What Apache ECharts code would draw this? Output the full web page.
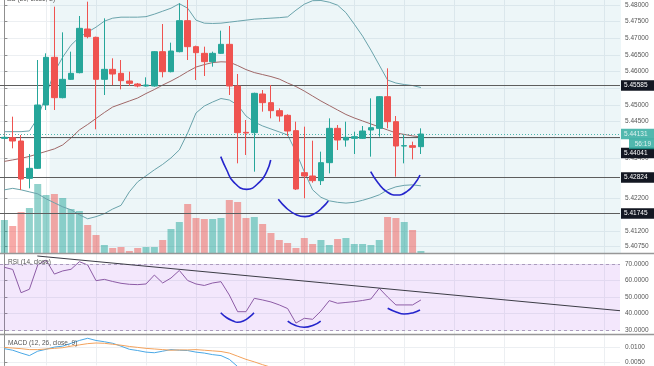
<!DOCTYPE html>
<html><head><meta charset="utf-8">
<script src="https://cdn.jsdelivr.net/npm/echarts@6/dist/echarts.min.js"></script>
<style>html,body{margin:0;padding:0;background:#fff}#c{width:654px;height:366px}</style>
</head><body><div id="c"></div>
<script>
// ---- data (hourly candles, index 0..50) ----
const open  = [5.4400,5.4402,5.4392,5.4280,5.4310,5.4500,5.4643,5.4522,5.4577,5.4597,5.4728,5.4703,5.4577,5.4607,5.4595,5.4572,5.4563,5.4557,5.4557,5.4660,5.4600,5.4660,5.4753,5.4675,5.4655,5.4630,5.4655,5.4682,5.4557,5.4418,5.4417,5.4533,5.4507,5.4483,5.4469,5.4423,5.4297,5.4287,5.4273,5.4327,5.4430,5.4395,5.4400,5.4400,5.4425,5.4430,5.4525,5.4450,5.4377,5.4378,5.4375];
const close = [5.4403,5.4392,5.4278,5.4310,5.4500,5.4643,5.4522,5.4577,5.4595,5.4730,5.4705,5.4577,5.4607,5.4593,5.4573,5.4565,5.4557,5.4560,5.4660,5.4600,5.4662,5.4753,5.4675,5.4657,5.4630,5.4655,5.4682,5.4557,5.4417,5.4416,5.4535,5.4507,5.4483,5.4467,5.4422,5.4248,5.4287,5.4273,5.4327,5.4430,5.4395,5.4403,5.4405,5.4422,5.4432,5.4525,5.4450,5.4377,5.4378,5.4373,5.4413];
const low   = [5.4397,5.4370,5.4245,5.4250,5.4308,5.4485,5.4485,5.4520,5.4575,5.4595,5.4700,5.4427,5.4530,5.4560,5.4547,5.4557,5.4553,5.4555,5.4555,5.4583,5.4598,5.4658,5.4635,5.4575,5.4587,5.4615,5.4653,5.4530,5.4325,5.4350,5.4300,5.4480,5.4460,5.4450,5.4407,5.4245,5.4220,5.4267,5.4260,5.4295,5.4365,5.4375,5.4353,5.4398,5.4345,5.4405,5.4430,5.4285,5.4325,5.4337,5.4353];
const high  = [5.4407,5.4465,5.4410,5.4353,5.4635,5.4655,5.4795,5.4718,5.4660,5.4767,5.4810,5.4705,5.4760,5.4640,5.4635,5.4600,5.4566,5.4583,5.4662,5.4743,5.4687,5.4805,5.4820,5.4678,5.4675,5.4660,5.4723,5.4737,5.4593,5.4455,5.4537,5.4545,5.4560,5.4490,5.4472,5.4450,5.4435,5.4393,5.4360,5.4460,5.4440,5.4450,5.4420,5.4437,5.4520,5.4527,5.4610,5.4467,5.4410,5.4390,5.4430];
const volume = [660,540,820,900,1380,1160,1180,1100,880,840,560,360,160,100,120,40,100,120,120,260,480,620,980,700,680,680,700,1060,1020,700,720,580,400,260,200,100,300,180,260,160,280,300,180,180,160,260,720,700,620,460,40];
const bbUpper = [5.44200,5.44200,5.44200,5.44222,5.44611,5.45299,5.45988,5.46437,5.46796,5.47036,5.47186,5.47335,5.47515,5.47605,5.47635,5.47635,5.47635,5.47650,5.47725,5.47814,5.47904,5.48039,5.47904,5.47545,5.47455,5.47446,5.47455,5.47485,5.47515,5.47545,5.47575,5.47590,5.47605,5.47620,5.47644,5.47844,5.48024,5.48129,5.48135,5.48084,5.47994,5.47770,5.47425,5.47066,5.46647,5.46198,5.45749,5.45659,5.45614,5.45584,5.45524];
const bbMid   = [5.43308,5.43353,5.43398,5.43458,5.43533,5.43608,5.43683,5.43802,5.44012,5.44251,5.44416,5.44596,5.44775,5.44940,5.45030,5.45120,5.45210,5.45344,5.45464,5.45599,5.45719,5.45853,5.46003,5.46138,5.46213,5.46272,5.46296,5.46287,5.46183,5.46063,5.45973,5.45913,5.45853,5.45778,5.45659,5.45554,5.45419,5.45269,5.45120,5.44985,5.44850,5.44716,5.44611,5.44521,5.44431,5.44341,5.44251,5.44162,5.44117,5.44072,5.44042];
const bbLower = [5.42455,5.42500,5.42455,5.42395,5.42335,5.42186,5.42066,5.41946,5.41856,5.41707,5.41587,5.41650,5.41740,5.41880,5.41990,5.42395,5.42695,5.42874,5.43054,5.43219,5.43413,5.43653,5.44162,5.44760,5.44970,5.45090,5.45195,5.45150,5.45000,5.44671,5.44491,5.44371,5.44281,5.44192,5.44102,5.43593,5.42994,5.42455,5.42231,5.42126,5.42081,5.42057,5.42081,5.42141,5.42216,5.42305,5.42455,5.42545,5.42590,5.42605,5.42575];
const rsi = [68,66.7,52.6,54.7,69.4,72.4,63.9,65.8,66.8,71.4,69.4,59.9,60.7,59.4,58.3,57.7,57.5,57.9,63.3,58.5,61.5,66.1,60,57.9,57,58.5,59.3,51.2,41.1,41.1,49.2,48.2,47,45.2,43,34.2,37.1,36.5,41.5,47.8,46.2,46.7,47.2,47.9,48.8,55.3,50,45.2,45.2,45.2,48.2];
const macdLine = [0.0094,0.0089,0.0080,0.0072,0.0086,0.0092,0.0099,0.0102,0.0111,0.0120,0.0127,0.0120,0.0116,0.0111,0.0102,0.0092,0.0088,0.0083,0.0081,0.0086,0.0091,0.0089,0.0088,0.0083,0.0080,0.0075,0.0072,0.0060,0.0037,0.0025];
const signalLine = [0.0098,0.0096,0.0094,0.0091,0.0091,0.0093,0.0095,0.0097,0.0102,0.0106,0.0110,0.0112,0.0111,0.0108,0.0105,0.0101,0.0098,0.0095,0.0093,0.0091,0.0089,0.0090,0.0090,0.0091,0.0089,0.0087,0.0085,0.0080,0.0070,0.0060,0.0052,0.0043,0.0035];

// horizontal levels and price labels
const levels = [5.45585, 5.44041, 5.42824, 5.41745];
const lastPrice = 5.44131;
const countdown = '56:19';
const priceGrid   = [5.4075,5.412,5.422,5.434,5.440,5.445,5.450,5.455,5.460,5.465,5.470,5.475,5.480];
const priceLabels = [5.4075,5.412,5.422,5.434,5.445,5.450,5.460,5.465,5.470,5.475,5.480];
const rsiTicks  = [30,40,50,60,70];
const macdTicks = [0.005,0.010];
const timeGrid  = [0,5,11,17,23,29,36,42,48,54,60,66,72];

// drawn annotations (candle index, value)
const priceArc1 = [[25.97,5.4345],[26.69,5.4305],[27.48,5.4270],[29.09,5.4247],[30.68,5.4270],[31.49,5.4300],[31.97,5.4335]];
const priceArc2 = [[32.88,5.4217],[33.89,5.4190],[35.09,5.4170],[36.09,5.4165],[37.29,5.4175],[38.28,5.4195],[38.88,5.4212]];
const priceArc3 = [[43.97,5.4300],[44.89,5.4265],[45.89,5.4240],[47.10,5.4230],[48.30,5.4240],[49.29,5.4265],[49.89,5.4290]];
const rsiArc1 = [[25.97,40.5],[26.69,37.45],[27.48,35.45],[27.96,34.7],[28.68,35.45],[29.48,38.06],[29.96,40.5]];
const rsiArc2 = [[34.01,35.45],[34.89,32.85],[35.97,31.64],[37.08,32.85],[37.97,35.45]];
const rsiArc3 = [[46.01,43.15],[47.1,40.73],[47.97,39.7],[49.09,40.5],[49.89,42.12]];
const rsiTrend = [[3.95,74.85],[73.9,41.7]];

// ---- build ----
const FONT = 'Liberation Sans';
const UP = '#26a69a', DOWN = '#ef5350';
const idx = open.map((_, i) => i);
const candles = idx.map(i => [i, open[i], close[i], low[i], high[i]]);
const volData = idx.map(i => ({value: [i, volume[i]], itemStyle: {color: close[i] >= open[i] ? 'rgba(38,166,154,0.5)' : 'rgba(239,83,80,0.5)'}}));
const pair = arr => arr.map((v, i) => [i, v]);

const XMIN = -0.528, XMAX = 73.9;
function xAx(g) {
  return {type: 'value', gridIndex: g, min: XMIN, max: XMAX,
    axisLine: {show: false}, axisLabel: {show: false},
    axisTick: {show: false, customValues: timeGrid},
    splitLine: {show: true, lineStyle: {color: '#eceff2', width: 1}}};
}
function yAx(g, min, max, ticks, labels, dec) {
  return {type: 'value', gridIndex: g, position: 'right', min: min, max: max,
    axisLine: {show: true, lineStyle: {color: '#8f8f8f', width: 1}},
    axisTick: {show: true, length: 3, customValues: ticks, lineStyle: {color: '#8f8f8f'}},
    axisLabel: {customValues: labels, formatter: v => v.toFixed(dec), fontSize: 6.5, color: '#555', margin: 5, fontFamily: FONT},
    splitLine: {show: true, lineStyle: {color: '#eceff2', width: 1}}};
}
const arcStyle = {color: '#2525cc', width: 1.6};
function arc(data, xi, yi) {
  return {type: 'line', xAxisIndex: xi, yAxisIndex: yi, data: data, smooth: 0.5, symbol: 'none', lineStyle: arcStyle, z: 8, silent: true};
}
const levelLines = levels.map((v, k) => ({
  yAxis: v,
  lineStyle: {color: '#5d5d5d', width: 1, type: 'solid'},
  label: {show: true, position: 'end', distance: 1, formatter: v.toFixed(5), color: '#fff', backgroundColor: '#131722',
    fontSize: 6.5, fontFamily: FONT, padding: [2, 3, 1.5, 3], width: 27, offset: k === 1 ? [0, 16] : [0, 0]}
}));
levelLines.push({
  yAxis: lastPrice,
  lineStyle: {color: UP, width: 1, type: [1, 2], opacity: 0.8},
  label: {show: true, position: 'end', distance: 1, formatter: '{p|' + lastPrice.toFixed(5) + '}\n{t|' + countdown + '}',
    offset: [0, 5], lineHeight: 10,
    rich: {p: {color: '#fff', backgroundColor: UP, fontSize: 6.5, fontFamily: FONT, padding: [2, 3, 1.5, 3], width: 27},
           t: {color: '#fff', backgroundColor: UP, fontSize: 6.5, fontFamily: FONT, padding: [2, 3, 1.5, 3], width: 19, align: 'right'}}}
});

const option = {
  animation: false,
  backgroundColor: '#fff',
  grid: [
    {left: 0, top: 0, width: 620, height: 253},
    {left: 0, top: 253, width: 620, height: 81},
    {left: 0, top: 334, width: 620, height: 32}
  ],
  xAxis: [xAx(0), xAx(1), xAx(2)],
  yAxis: [
    yAx(0, 5.4056, 5.4815, priceGrid, priceLabels, 5),
    {type: 'value', gridIndex: 0, min: 0, max: 5060, show: false, splitLine: {show: false}},
    yAx(1, 27.58, 76.67, rsiTicks, rsiTicks, 4),
    yAx(2, 0.00406, 0.01406, macdTicks, macdTicks, 4)
  ],
  graphic: [
    {type: 'line', shape: {x1: 0, y1: 253.5, x2: 654, y2: 253.5}, style: {stroke: '#979797', lineWidth: 1.5}, z: 100},
    {type: 'line', shape: {x1: 0, y1: 334.5, x2: 654, y2: 334.5}, style: {stroke: '#979797', lineWidth: 1.5}, z: 100},
    {type: 'text', left: 7, top: -4, style: {text: 'BB (20, close, 2)', fontSize: 6.5, fill: '#555', fontFamily: FONT}, z: 100},
    {type: 'text', left: 8, top: 259, style: {text: 'RSI (14, close)', fontSize: 6.5, fill: '#555', fontFamily: FONT}, z: 100},
    {type: 'text', left: 8, top: 340, style: {text: 'MACD (12, 26, close, 9)', fontSize: 6.5, fill: '#555', fontFamily: FONT}, z: 100}
  ],
  series: [
    {type: 'line', xAxisIndex: 0, yAxisIndex: 0, data: pair(bbLower), stack: 'bb', symbol: 'none', lineStyle: {opacity: 0}, silent: true, z: 1},
    {type: 'line', xAxisIndex: 0, yAxisIndex: 0, data: idx.map(i => [i, bbUpper[i] - bbLower[i]]), stack: 'bb', symbol: 'none',
      lineStyle: {opacity: 0}, areaStyle: {color: 'rgba(30,140,170,0.08)', opacity: 1}, silent: true, z: 1},
    {type: 'bar', xAxisIndex: 0, yAxisIndex: 1, data: volData, barWidth: 7, silent: true, z: 2},
    {type: 'line', xAxisIndex: 0, yAxisIndex: 0, data: pair(bbUpper), symbol: 'none', lineStyle: {color: '#6aa3ab', width: 1}, silent: true, z: 3},
    {type: 'line', xAxisIndex: 0, yAxisIndex: 0, data: pair(bbLower), symbol: 'none', lineStyle: {color: '#6aa3ab', width: 1}, silent: true, z: 3},
    {type: 'line', xAxisIndex: 0, yAxisIndex: 0, data: pair(bbMid), symbol: 'none', lineStyle: {color: '#a06868', width: 1}, silent: true, z: 3},
    {type: 'candlestick', xAxisIndex: 0, yAxisIndex: 0, data: candles, barWidth: 6,
      itemStyle: {color: UP, color0: DOWN, borderColor: UP, borderColor0: DOWN, borderWidth: 1}, z: 5,
      markLine: {silent: true, precision: 5, symbol: ['none', 'none'], animation: false, data: levelLines}},
    arc(priceArc1, 0, 0), arc(priceArc2, 0, 0), arc(priceArc3, 0, 0),
    {type: 'line', xAxisIndex: 1, yAxisIndex: 2, data: pair(rsi), symbol: 'none', lineStyle: {color: '#8d5ca6', width: 1}, z: 4, silent: true,
      markArea: {silent: true, itemStyle: {color: 'rgba(155,60,230,0.12)'}, data: [[{yAxis: 30}, {yAxis: 70}]]},
      markLine: {silent: true, symbol: ['none', 'none'], label: {show: false},
        lineStyle: {color: '#ab9bbd', width: 1, type: [3, 3]}, data: [{yAxis: 30}, {yAxis: 70}]}},
    {type: 'line', xAxisIndex: 1, yAxisIndex: 2, data: rsiTrend, symbol: 'none', lineStyle: {color: '#3c3c46', width: 1}, z: 6, silent: true},
    arc(rsiArc1, 1, 2), arc(rsiArc2, 1, 2), arc(rsiArc3, 1, 2),
    {type: 'line', xAxisIndex: 2, yAxisIndex: 3, data: pair(macdLine), symbol: 'none', lineStyle: {color: '#4aa8e6', width: 1}, z: 4, silent: true},
    {type: 'line', xAxisIndex: 2, yAxisIndex: 3, data: pair(signalLine), symbol: 'none', lineStyle: {color: '#f3a25c', width: 1}, z: 4, silent: true}
  ]
};
const chart = echarts.init(document.getElementById('c'));
chart.setOption(option);
</script>
</body></html>
